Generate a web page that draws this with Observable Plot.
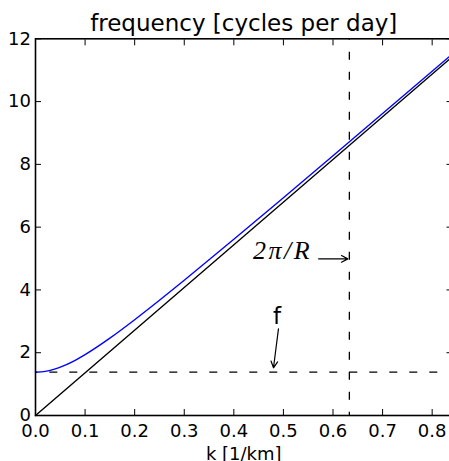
<!DOCTYPE html>
<html>
<head>
<meta charset="utf-8">
<script src="https://cdn.jsdelivr.net/npm/d3@7"></script>
<script src="https://cdn.jsdelivr.net/npm/@observablehq/plot@0.6"></script>
<style>
  html, body { margin: 0; padding: 0; background: white; overflow: hidden; }
  #chart svg { overflow: visible; max-width: none; }
</style>
</head>
<body>
<div id="chart"></div>
<script>
// ---- data ----
const kValues     = [0, 0.02, 0.04, 0.06, 0.08, 0.10, 0.15, 0.20, 0.25, 0.30, 0.40, 0.50, 0.60, 0.70, 0.84];
const freqValues  = [1.38, 1.406, 1.483, 1.603, 1.757, 1.938, 2.463, 3.050, 3.669, 4.307, 5.612, 6.939, 8.276, 9.619, 11.507];
const asymK       = [0, 0.84];
const asymFreq    = [0, 11.42];
const fLevel      = [1.38];
const kR          = [0.633];
const xTicks      = [0, 0.1, 0.2, 0.3, 0.4, 0.5, 0.6, 0.7, 0.8];
const yTicks      = [0, 2, 4, 6, 8, 10, 12];
const titleText   = "frequency [cycles per day]";
const xLabelText  = "k [1/km]";
// annotations (data coordinates)
const fNote       = [{x: 0.487, y: 2.92, label: "f"}];
const fArrow      = [{x1: 0.490, y1: 2.76, x2: 0.480, y2: 1.52}];
const rNote       = [{x: 0.558, y: 5.0, label: "2π/R"}];
const rArrow      = [{x1: 0.571, y1: 4.99, x2: 0.630, y2: 4.99}];

const curve = kValues.map((k, i) => ({k, w: freqValues[i]}));
const asym  = asymK.map((k, i) => ({k, w: asymFreq[i]}));

const chart = Plot.plot({
  width: 449,
  height: 461,
  marginLeft: 35,
  marginRight: -2.5,
  marginTop: 38.3,
  marginBottom: 46,
  style: {fontFamily: "DejaVu Sans", fontSize: "18px", color: "black", background: "white"},
  x: {domain: [0, 0.84]},
  y: {domain: [0, 12]},
  marks: [
    Plot.ruleY(fLevel, {stroke: "black", strokeWidth: 1.3, strokeDasharray: "8,12", strokeDashoffset: 5.7}),
    Plot.ruleX(kR, {stroke: "black", strokeWidth: 1.3, strokeDasharray: "8,12", strokeDashoffset: 6.6}),
    Plot.line(curve, {x: "k", y: "w", stroke: "#0000ff", strokeWidth: 1.4, curve: "monotone-x"}),
    Plot.line(asym, {x: "k", y: "w", stroke: "black", strokeWidth: 1.4}),
    Plot.text(fNote, {x: "x", y: "y", text: "label", fontSize: 23, textAnchor: "middle", lineAnchor: "bottom", fill: "black"}),
    Plot.arrow(fArrow, {x1: "x1", y1: "y1", x2: "x2", y2: "y2", stroke: "black", strokeWidth: 1.2, headLength: 9, headAngle: 55}),
    Plot.text(rNote, {x: "x", y: "y", text: "label", fontSize: 26, fontFamily: "Liberation Serif", fontStyle: "italic", textAnchor: "end", lineAnchor: "bottom", fill: "black"}),
    Plot.arrow(rArrow, {x1: "x1", y1: "y1", x2: "x2", y2: "y2", stroke: "black", strokeWidth: 1.2, headLength: 9, headAngle: 55}),
    Plot.frame({stroke: "black", strokeWidth: 1.6}),
    Plot.axisX({ticks: xTicks, tickFormat: d => d.toFixed(1), tickSize: -6, tickPadding: 14.6, label: null, fontSize: 18}),
    Plot.axisX({anchor: "top", ticks: xTicks, tickFormat: () => "", tickSize: -6, label: null}),
    Plot.axisY({ticks: yTicks, tickFormat: d => String(d), tickSize: -6, tickPadding: 10.5, label: null, fontSize: 18}),
    Plot.axisY({anchor: "right", ticks: yTicks, tickFormat: () => "", tickSize: -6, label: null}),
    Plot.text([titleText], {frameAnchor: "top", dy: -8, lineAnchor: "bottom", fontSize: 23, fill: "black", text: d => d}),
    Plot.text([xLabelText], {frameAnchor: "bottom", dy: 44, lineAnchor: "bottom", fontSize: 18, fill: "black", text: d => d})
  ]
});
document.getElementById("chart").appendChild(chart);
// spacing of the math label like a typeset formula
chart.querySelectorAll("text").forEach(t => {
  if (t.textContent === "2π/R") t.setAttribute("letter-spacing", "2.5");
});
</script>
</body>
</html>
